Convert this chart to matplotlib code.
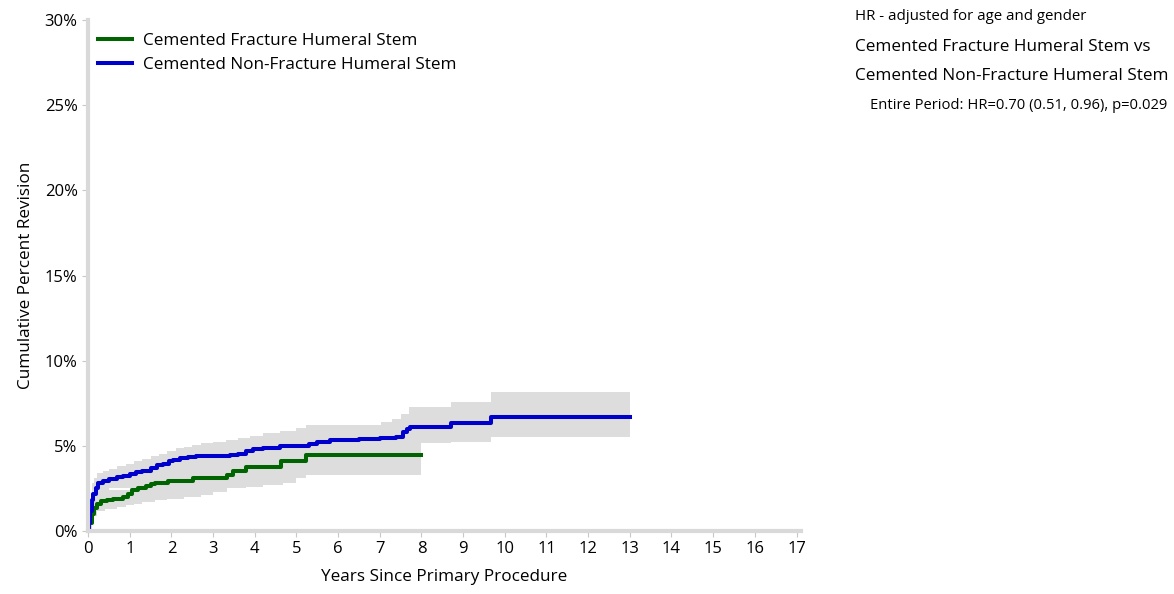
import matplotlib
matplotlib.use("Agg")
import matplotlib.pyplot as plt

plt.rcParams['font.family'] = ['Open Sans', 'DejaVu Sans']

# Cemented Non-Fracture Humeral Stem (blue)
blue_t = [0, 0.02, 0.05, 0.09, 0.13, 0.18, 0.25, 0.35, 0.5, 0.7, 0.85, 1.0, 1.15, 1.3, 1.5,
          1.65, 1.8, 1.95, 2.05, 2.2, 2.4, 2.6, 3.0, 3.4, 3.6, 3.8, 3.96, 4.2, 4.6, 5.0,
          5.3, 5.5, 5.8, 6.5, 7.0, 7.4, 7.55, 7.65, 7.72, 8.72, 9.66, 13.0]
blue_v = [0, 0.5, 1.2, 1.8, 2.2, 2.5, 2.8, 2.95, 3.05, 3.15, 3.25, 3.35, 3.45, 3.55, 3.7,
          3.85, 3.95, 4.1, 4.2, 4.3, 4.35, 4.4, 4.42, 4.45, 4.55, 4.7, 4.82, 4.9, 4.97, 5.02,
          5.1, 5.25, 5.35, 5.38, 5.45, 5.55, 5.8, 6.0, 6.1, 6.35, 6.7, 6.7]
blue_up_t = [0, 0.02, 0.05, 0.1, 0.15, 0.22, 0.35, 0.5, 0.7, 0.9, 1.1, 1.3, 1.5, 1.7, 1.9,
             2.1, 2.3, 2.5, 2.7, 3.0, 3.3, 3.6, 3.88, 4.2, 4.6, 5.0, 5.24, 7.04, 7.3, 7.5,
             7.7, 8.72, 9.66, 13.0]
blue_up_v = [0, 1.0, 1.8, 2.8, 3.1, 3.4, 3.55, 3.65, 3.8, 3.95, 4.1, 4.25, 4.4, 4.55, 4.7,
             4.85, 4.95, 5.05, 5.15, 5.25, 5.35, 5.45, 5.6, 5.75, 5.9, 6.05, 6.2, 6.4, 6.6, 6.9,
             7.3, 7.56, 8.14, 8.14]
blue_lo_t = [0, 0.1, 0.5, 1, 2, 3, 4, 5, 6, 7, 7.7, 8.0, 8.72, 9.66, 13.0]
blue_lo_v = [0, 1.5, 2.5, 2.8, 3.6, 3.9, 4.3, 4.6, 4.8, 4.9, 5.1, 5.15, 5.25, 5.5, 5.5]

# Cemented Fracture Humeral Stem (green)
green_t = [0, 0.03, 0.09, 0.15, 0.21, 0.3, 0.45, 0.6, 0.85, 0.95, 1.05, 1.2, 1.4, 1.5, 1.6,
           1.93, 2.53, 3.33, 3.48, 3.8, 4.64, 5.24, 8.0]
green_v = [0, 0.5, 1.0, 1.35, 1.6, 1.75, 1.85, 1.9, 2.0, 2.2, 2.4, 2.55, 2.62, 2.75, 2.85,
           2.95, 3.1, 3.3, 3.5, 3.75, 4.1, 4.45, 4.45]
green_up_t = [0, 0.1, 0.3, 1, 2, 3, 4, 5.24, 8.0]
green_up_v = [0, 1.5, 2.4, 2.9, 3.9, 4.3, 5.0, 5.9, 6.0]
green_lo_t = [0, 0.05, 0.1, 0.15, 0.22, 0.4, 0.7, 0.9, 1.1, 1.3, 1.6, 1.9, 2.3, 2.7, 3.0,
              3.33, 3.8, 4.2, 4.68, 5.0, 5.24, 8.0]
green_lo_v = [0, 0.3, 0.6, 0.9, 1.2, 1.3, 1.4, 1.5, 1.6, 1.7, 1.8, 1.9, 2.0, 2.1, 2.3,
              2.5, 2.6, 2.7, 2.8, 3.1, 3.3, 3.3]

band_color = '#dddddd'
green = '#006400'
blue = '#0000cd'


def step_band(ax, t_up, v_up, t_lo, v_lo):
    # merge the two step functions on a common time grid
    ts = sorted(set(t_up) | set(t_lo))
    def val(t_list, v_list, t):
        out = v_list[0]
        for tt, vv in zip(t_list, v_list):
            if tt <= t:
                out = vv
        return out
    up = [val(t_up, v_up, t) for t in ts]
    lo = [val(t_lo, v_lo, t) for t in ts]
    ax.fill_between(ts, lo, up, step='post', color=band_color, linewidth=0)


fig = plt.figure(figsize=(11.74, 5.94), dpi=100)
ax = fig.add_axes([0.075, 0.106, 0.607, 0.86])

step_band(ax, green_up_t, green_up_v, green_lo_t, green_lo_v)
step_band(ax, blue_up_t, blue_up_v, blue_lo_t, blue_lo_v)

ax.step(green_t, green_v, where='post', color=green, lw=2.9, label='Cemented Fracture Humeral Stem')
ax.step(blue_t, blue_v, where='post', color=blue, lw=2.9, label='Cemented Non-Fracture Humeral Stem')

ax.set_xlim(0, 17.1)
ax.set_ylim(0, 30)
ax.set_xticks(range(0, 18))
ax.set_yticks(range(0, 31, 5))
ax.set_yticklabels([f"{v}%" for v in range(0, 31, 5)])
ax.tick_params(axis='both', colors='#c8c8c8', labelcolor='black', labelsize=12, length=4)
for s in ['top', 'right']:
    ax.spines[s].set_visible(False)
for s in ['left', 'bottom']:
    ax.spines[s].set_color('#d9d9d9')
    ax.spines[s].set_linewidth(3)

ax.set_xlabel("Years Since Primary Procedure", fontsize=12.3, labelpad=8)
ax.set_ylabel("Cumulative Percent Revision", fontsize=12.3, labelpad=8)

ax.legend(loc='upper left', frameon=False, fontsize=12.3, handlelength=2.0,
          handletextpad=0.6, borderaxespad=0.2, labelspacing=0.45,
          bbox_to_anchor=(0.0, 0.995))

fig.text(0.728, 0.972, "HR - adjusted for age and gender", fontsize=10.8, va='center')
fig.text(0.728, 0.921, "Cemented Fracture Humeral Stem vs", fontsize=12.3, va='center')
fig.text(0.728, 0.872, "Cemented Non-Fracture Humeral Stem", fontsize=12.3, va='center')
fig.text(0.741, 0.822, "Entire Period: HR=0.70 (0.51, 0.96), p=0.029", fontsize=10.6, va='center')

fig.savefig("out.png", dpi=100)
